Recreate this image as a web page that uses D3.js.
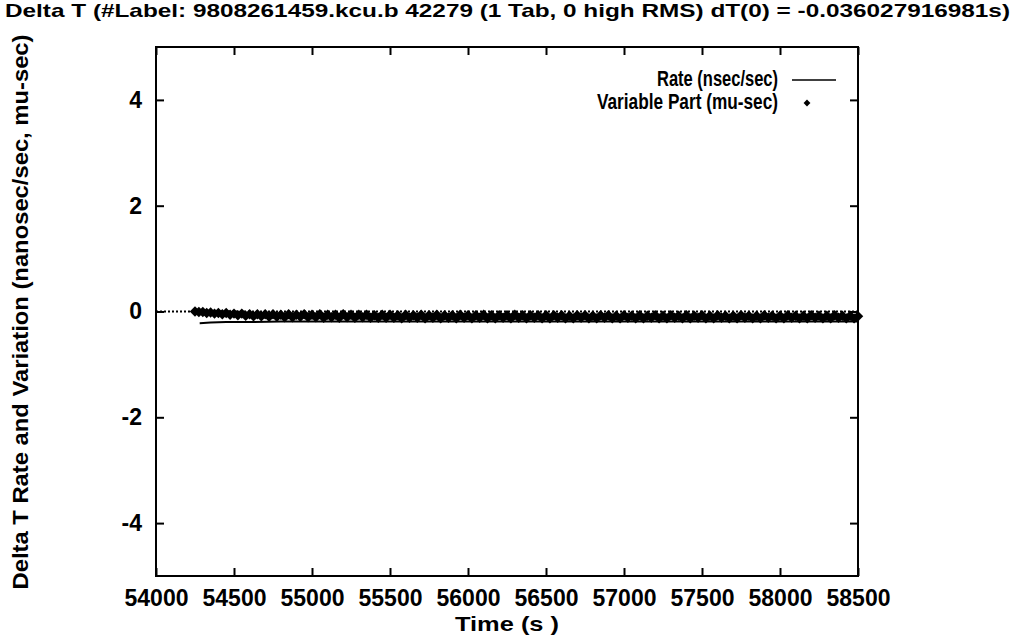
<!DOCTYPE html>
<html>
<head>
<meta charset="utf-8">
<script src="https://cdn.jsdelivr.net/npm/d3@7/dist/d3.min.js"></script>
<style>
  body { margin: 0; background: #fff; }
  text { font-family: "Liberation Sans", Arial, Helvetica, sans-serif; font-weight: bold; fill: #000; }
</style>
</head>
<body>
<svg id="chart" width="1020" height="638"></svg>
<script>
// datos
const titleText = 'Delta T (#Label: 9808261459.kcu.b 42279 (1 Tab, 0 high RMS) dT(0) = -0.036027916981s)';
const xTicks = [54000, 54500, 55000, 55500, 56000, 56500, 57000, 57500, 58000, 58500];
const yTicks = [-4, -2, 0, 2, 4];

// Rate (nsec/sec)
const rateTimes = [54280, 54350, 54450, 54600, 54800, 55200, 56000, 57000, 58000, 58500];
const rateValues = [-0.22, -0.21, -0.20, -0.20, -0.19, -0.19, -0.19, -0.19, -0.19, -0.19];

// Variable Part (mu-sec)
const varTimes = [
  54250, 54275, 54300, 54325, 54350, 54375, 54400, 54425, 54450, 54475,
  54500, 54525, 54550, 54575, 54600, 54625, 54650, 54675, 54700, 54725,
  54750, 54775, 54800, 54825, 54850, 54875, 54900, 54925, 54950, 54975,
  55000, 55025, 55050, 55075, 55100, 55125, 55150, 55175, 55200, 55225,
  55250, 55275, 55300, 55325, 55350, 55375, 55400, 55425, 55450, 55475,
  55500, 55525, 55550, 55575, 55600, 55625, 55650, 55675, 55700, 55725,
  55750, 55775, 55800, 55825, 55850, 55875, 55900, 55925, 55950, 55975,
  56000, 56025, 56050, 56075, 56100, 56125, 56150, 56175, 56200, 56225,
  56250, 56275, 56300, 56325, 56350, 56375, 56400, 56425, 56450, 56475,
  56500, 56525, 56550, 56575, 56600, 56625, 56650, 56675, 56700, 56725,
  56750, 56775, 56800, 56825, 56850, 56875, 56900, 56925, 56950, 56975,
  57000, 57025, 57050, 57075, 57100, 57125, 57150, 57175, 57200, 57225,
  57250, 57275, 57300, 57325, 57350, 57375, 57400, 57425, 57450, 57475,
  57500, 57525, 57550, 57575, 57600, 57625, 57650, 57675, 57700, 57725,
  57750, 57775, 57800, 57825, 57850, 57875, 57900, 57925, 57950, 57975,
  58000, 58025, 58050, 58075, 58100, 58125, 58150, 58175, 58200, 58225,
  58250, 58275, 58300, 58325, 58350, 58375, 58400, 58425, 58450, 58475,
  58500
];
const varValues = [
  0.00, -0.01, -0.01, -0.03, -0.02, -0.04, -0.03, -0.05, -0.03, -0.06,
  -0.04, -0.07, -0.04, -0.08, -0.05, -0.09, -0.05, -0.09, -0.05, -0.10,
  -0.05, -0.10, -0.06, -0.11, -0.05, -0.11, -0.06, -0.10, -0.05, -0.11,
  -0.06, -0.11, -0.05, -0.12, -0.06, -0.11, -0.06, -0.12, -0.05, -0.11,
  -0.06, -0.12, -0.06, -0.11, -0.06, -0.12, -0.07, -0.12, -0.06, -0.12,
  -0.06, -0.12, -0.07, -0.13, -0.06, -0.12, -0.07, -0.12, -0.06, -0.13,
  -0.07, -0.12, -0.06, -0.13, -0.07, -0.12, -0.07, -0.13, -0.06, -0.12,
  -0.07, -0.13, -0.07, -0.12, -0.06, -0.13, -0.07, -0.13, -0.07, -0.12,
  -0.07, -0.13, -0.06, -0.12, -0.07, -0.13, -0.07, -0.12, -0.07, -0.13,
  -0.07, -0.13, -0.07, -0.12, -0.07, -0.13, -0.08, -0.13, -0.07, -0.12,
  -0.07, -0.13, -0.08, -0.13, -0.07, -0.12, -0.07, -0.13, -0.08, -0.13,
  -0.07, -0.12, -0.08, -0.13, -0.07, -0.13, -0.08, -0.12, -0.07, -0.13,
  -0.08, -0.13, -0.07, -0.12, -0.08, -0.13, -0.07, -0.13, -0.08, -0.12,
  -0.07, -0.13, -0.08, -0.13, -0.07, -0.12, -0.08, -0.13, -0.08, -0.13,
  -0.07, -0.12, -0.08, -0.13, -0.08, -0.13, -0.07, -0.12, -0.08, -0.13,
  -0.08, -0.13, -0.07, -0.12, -0.08, -0.13, -0.08, -0.13, -0.07, -0.12,
  -0.08, -0.13, -0.08, -0.13, -0.07, -0.12, -0.08, -0.13, -0.08, -0.13,
  -0.09
];

const svg = d3.select('#chart');
const plot = { left: 156, right: 858, top: 47, bottom: 576 };

const x = d3.scaleLinear().domain([54000, 58500]).range([plot.left, plot.right]);
const y = d3.scaleLinear().domain([-5, 5]).range([plot.bottom, plot.top]);

// titulo
svg.append('text')
  .attr('x', 5).attr('y', 17)
  .attr('font-size', 19)
  .attr('textLength', 1005).attr('lengthAdjust', 'spacingAndGlyphs')
  .text(titleText);

// eje cero punteado
svg.append('line')
  .attr('x1', x(54000)).attr('x2', x(58500))
  .attr('y1', y(0)).attr('y2', y(0))
  .attr('stroke', '#000').attr('stroke-width', 2)
  .attr('stroke-dasharray', '2,2');

// ejes (ticks hacia dentro, en los cuatro lados)
const tickLen = 8;
svg.append('g')
  .attr('transform', `translate(0,${plot.bottom})`)
  .call(d3.axisBottom(x).tickValues(xTicks).tickSize(-tickLen).tickPadding(14).tickFormat(d => String(d)))
  .call(g => g.select('.domain').remove());
svg.append('g')
  .attr('transform', `translate(0,${plot.top})`)
  .call(d3.axisTop(x).tickValues(xTicks).tickSize(-tickLen).tickFormat(''))
  .call(g => g.select('.domain').remove());
svg.append('g')
  .attr('transform', `translate(${plot.left},0)`)
  .call(d3.axisLeft(y).tickValues(yTicks).tickSize(-tickLen).tickPadding(14).tickFormat(d => String(d)))
  .call(g => g.select('.domain').remove());
svg.append('g')
  .attr('transform', `translate(${plot.right},0)`)
  .call(d3.axisRight(y).tickValues(yTicks).tickSize(-tickLen).tickFormat(''))
  .call(g => g.select('.domain').remove());

svg.selectAll('.tick line').attr('stroke', '#000').attr('stroke-width', 2);
svg.selectAll('.tick text')
  .attr('font-family', '"Liberation Sans", Arial, sans-serif')
  .attr('font-weight', 'bold')
  .attr('font-size', 23)
  .attr('fill', '#000');

// marco
svg.append('rect')
  .attr('x', plot.left).attr('y', plot.top)
  .attr('width', plot.right - plot.left).attr('height', plot.bottom - plot.top)
  .attr('fill', 'none').attr('stroke', '#000').attr('stroke-width', 2);

// linea Rate
const rateLine = d3.line().x((d, i) => x(rateTimes[i])).y(d => y(d));
svg.append('path')
  .datum(rateValues)
  .attr('d', rateLine)
  .attr('fill', 'none').attr('stroke', '#000').attr('stroke-width', 2);

// puntos Variable Part (rombos)
const diamond = d3.symbol().type(d3.symbolDiamond2).size(70);
svg.append('g').selectAll('path')
  .data(varValues)
  .enter().append('path')
  .attr('transform', (d, i) => `translate(${x(varTimes[i])},${y(d)})`)
  .attr('d', diamond)
  .attr('fill', '#000');

// etiquetas de ejes
svg.append('text')
  .attr('x', 507).attr('y', 631)
  .attr('text-anchor', 'middle')
  .attr('font-size', 21)
  .attr('textLength', 104).attr('lengthAdjust', 'spacingAndGlyphs')
  .text('Time (s )');

svg.append('text')
  .attr('transform', 'translate(28,312) rotate(-90)')
  .attr('text-anchor', 'middle')
  .attr('font-size', 22)
  .attr('textLength', 555).attr('lengthAdjust', 'spacingAndGlyphs')
  .text('Delta T Rate and Variation (nanosec/sec, mu-sec)');

// leyenda
const legend = svg.append('g');
legend.append('text')
  .attr('x', 778).attr('y', 86)
  .attr('text-anchor', 'end')
  .attr('font-size', 22)
  .attr('textLength', 121).attr('lengthAdjust', 'spacingAndGlyphs')
  .text('Rate (nsec/sec)');
legend.append('line')
  .attr('x1', 792).attr('x2', 836).attr('y1', 80).attr('y2', 80)
  .attr('stroke', '#000').attr('stroke-width', 1.5);
legend.append('text')
  .attr('x', 778).attr('y', 109)
  .attr('text-anchor', 'end')
  .attr('font-size', 22)
  .attr('textLength', 181).attr('lengthAdjust', 'spacingAndGlyphs')
  .text('Variable Part (mu-sec)');
legend.append('path')
  .attr('transform', 'translate(807,103)')
  .attr('d', d3.symbol().type(d3.symbolDiamond2).size(30))
  .attr('fill', '#000');
</script>
</body>
</html>
